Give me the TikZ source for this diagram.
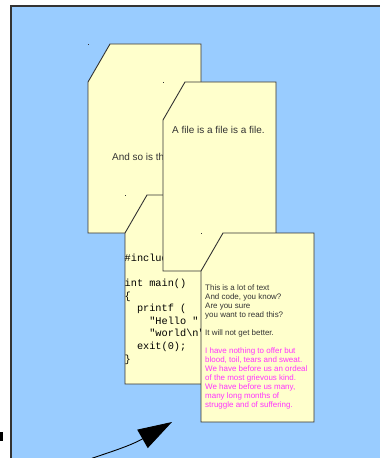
\documentclass[tikz,border=0pt]{standalone}
\usepackage{fontspec}
\setmainfont{Liberation Sans}
\setmonofont{Liberation Mono}
\usetikzlibrary{arrows.meta}
\definecolor{canvasblue}{HTML}{99CCFF}
\definecolor{paper}{HTML}{FFFFCC}
\definecolor{edgegray}{HTML}{333333}
\definecolor{speech}{HTML}{FF33FF}
\tikzset{
  sheet/.style={draw=edgegray, fill=paper, line width=0.9bp, line join=miter},
  sheettext/.style={inner sep=0pt, text=edgegray, font=\fontsize{10}{12}\selectfont},
  smalltext/.style={inner sep=0pt, align=left, anchor=north west, font=\fontsize{8}{9}\selectfont}
}
% a page with its upper left corner cut off; #1,#2 = corner of its box
\newcommand{\filesheet}[2]{%
  \draw[sheet] (#1,#2+38) -- (#1+22,#2) -- (#1+113,#2) -- (#1+113,#2+189) -- (#1,#2+189) -- cycle;
  \fill[edgegray] (#1-0.4,#2-0.4) rectangle (#1+0.4,#2+0.4);}

\begin{document}
\begin{tikzpicture}[x=1bp,y=-1bp]
 \useasboundingbox (0,0) rectangle (379,458);
 \draw[draw=edgegray, fill=canvasblue, line width=1.2bp] (11,6) rectangle (390,470);
 \fill[black] (0,432) rectangle (2.5,441);

 % the pages, back to front
 \filesheet{88}{44}
 \node[sheettext, anchor=base west] (sotext) at (112,161) {And so is this.};

 \filesheet{125}{195}
 \begin{scope}
  \clip (120,195) rectangle (201,384);
  \node[sheettext, anchor=north west, align=left, text=black,
    font=\fontsize{10.3}{12.6}\selectfont\ttfamily] (code) at (124.5,254)
   {\#include <stdio.h>\\
    \mbox{}\\
    int main()\\
    \{\\
    \hphantom{xx}printf (\\
    \hphantom{xxxx}"Hello "\\
    \hphantom{xxxx}"world\textbackslash n");\\
    \hphantom{xx}exit(0);\\
    \}};
 \end{scope}

 \filesheet{163}{82}
 \node[sheettext, anchor=base west] (filetext) at (172,134) {A file is a file is a file.};

 \filesheet{201}{233}
 \node[smalltext, text=edgegray] (lottext) at (205,285)
  {This is a lot of text\\
   And code, you know?\\
   Are you sure\\
   you want to read this?\\
   \mbox{}\\
   It will not get better.};
 \node[smalltext, text=speech] (speechtext) at (205,348)
  {I have nothing to offer but\\
   blood, toil, tears and sweat.\\
   We have before us an ordeal\\
   of the most grievous kind.\\
   We have before us many,\\
   many long months of\\
   struggle and of suffering.};

 % the arrow
 \coordinate (tail) at (90,459);
 \coordinate (tip) at (172,422);
 \draw[-{Triangle[length=34bp,width=21bp]}, line width=0.9bp] (tail) .. controls (110,452) and (130,446) .. (tip);
\end{tikzpicture}
\end{document}
